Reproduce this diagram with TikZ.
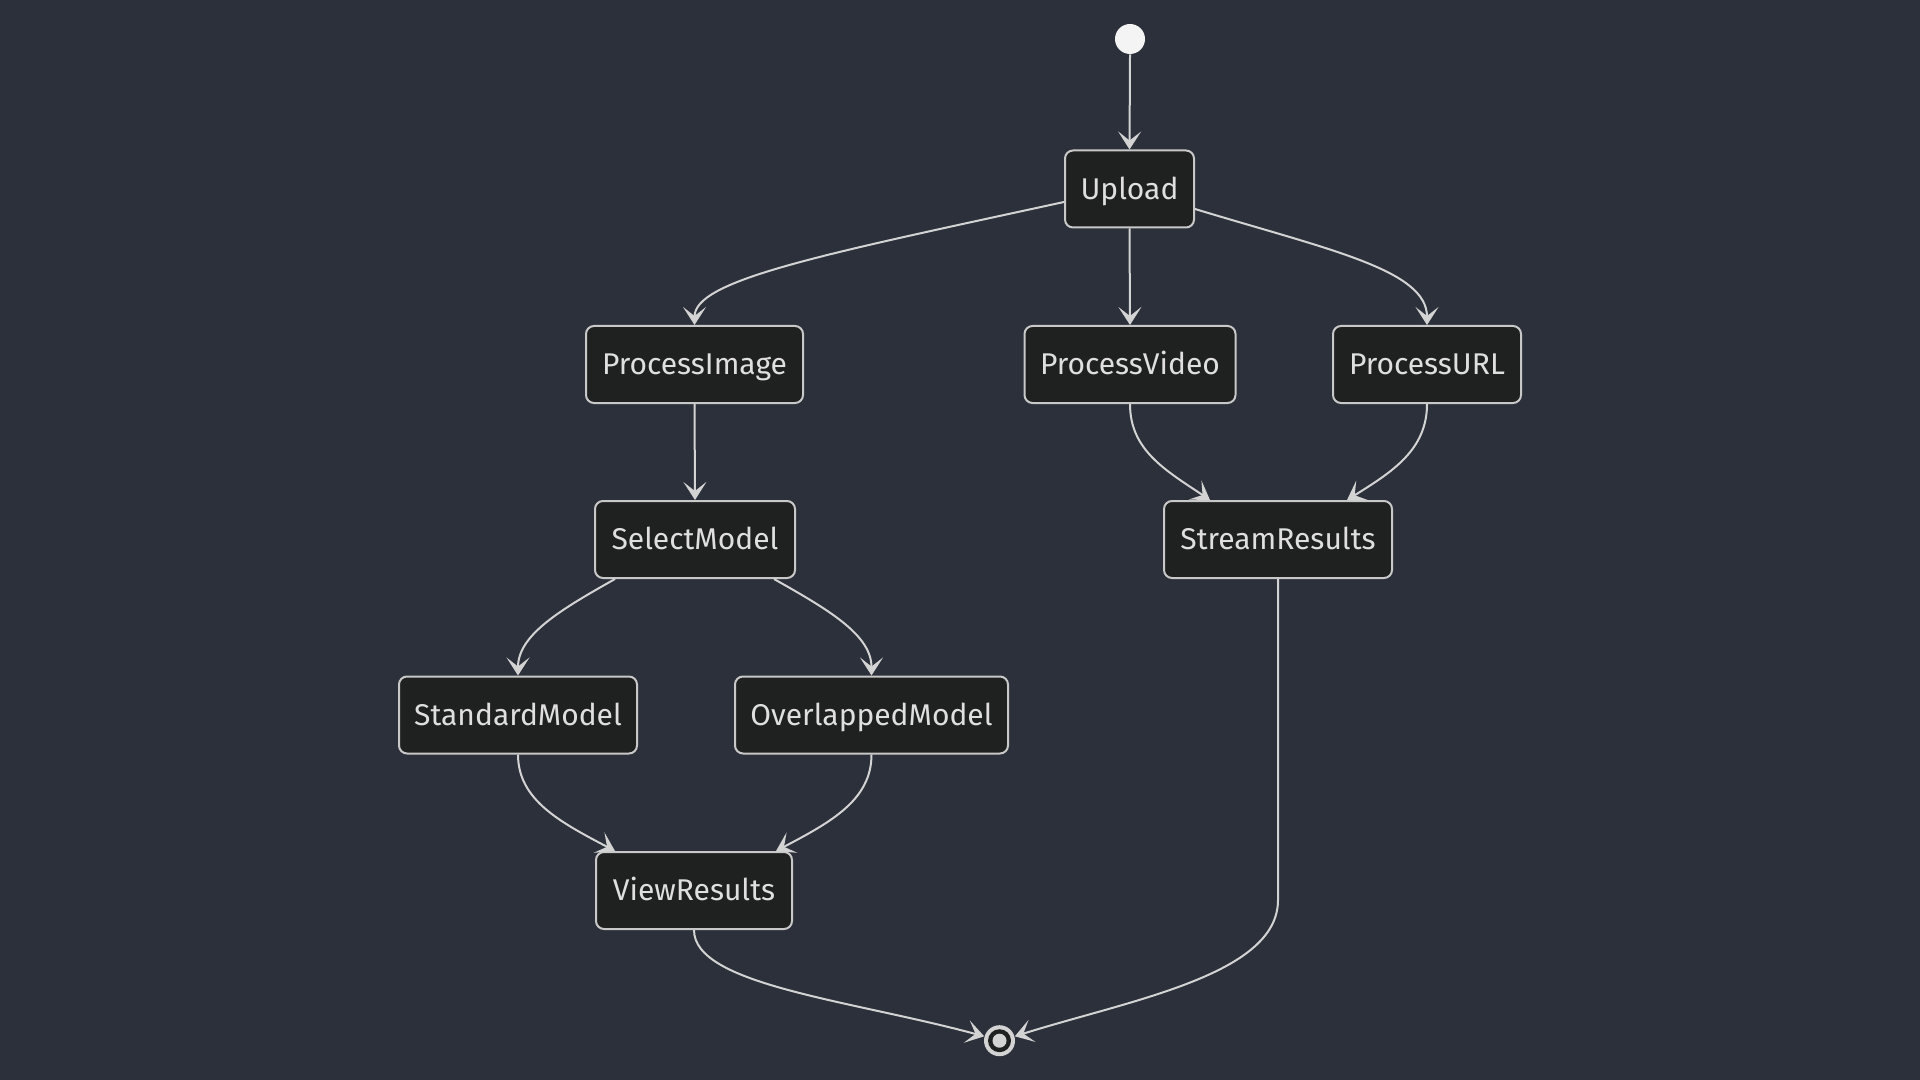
\documentclass[tikz,border=0pt]{standalone}
\usepackage{fontspec}
\setmainfont{Fira Sans}
\usetikzlibrary{arrows.meta}
\definecolor{bgc}{HTML}{2B303B}
\definecolor{nodefill}{HTML}{1F2020}
\definecolor{nodeborder}{HTML}{C8C8C8}
\definecolor{edgec}{HTML}{D3D3D3}
\definecolor{textc}{HTML}{E0DFDF}
\definecolor{startc}{HTML}{F4F4F4}
\tikzset{
  statebox/.style={draw=nodeborder, line width=1pt, fill=nodefill, rounded corners=4pt,
    text=textc, font=\fontsize{15pt}{18pt}\selectfont, inner sep=0pt,
    minimum height=38.5pt, text height=10.4pt, text depth=0pt},
  flow/.style={draw=edgec, line width=1pt,
    -{Stealth[length=9pt, width=11.5pt, inset=4.5pt]}},
}
\begin{document}
\begin{tikzpicture}[x=0.5pt, y=-0.5pt]
\fill[bgc] (0,0) rectangle (1920,1080);
\useasboundingbox (0,0) rectangle (1920,1080);

\node[circle, fill=startc, minimum size=15pt, inner sep=0pt] (st) at (1130,39) {};
\node[statebox, minimum width=64.5pt] (up) at (1129.5,189) {Upload};
\node[statebox, minimum width=108.5pt] (pi) at (694.5,364.5) {ProcessImage};
\node[statebox, minimum width=105.5pt] (pv) at (1130,364.5) {ProcessVideo};
\node[statebox, minimum width=94pt] (purl) at (1427,364.5) {ProcessURL};
\node[statebox, minimum width=100pt] (sm) at (695,539.5) {SelectModel};
\node[statebox, minimum width=114pt] (sr) at (1278,539.5) {StreamResults};
\node[statebox, minimum width=119pt] (std) at (518,715) {StandardModel};
\node[statebox, minimum width=136.5pt] (ov) at (871.5,715) {OverlappedModel};
\node[statebox, minimum width=98pt] (vr) at (694,890.5) {ViewResults};
\node[circle, fill=edgec, minimum size=15.5pt, inner sep=0pt] (endc) at (999.5,1040.7) {};
\fill[nodefill] (endc.center) circle (5.75pt);
\fill[edgec] (endc.center) circle (3.5pt);

\coordinate (srbend) at (1278,900);

\draw[flow] (st.south) -- (up.north);
\draw[flow] ([yshift=-6.5pt]up.west) .. controls (820,255) and (694.5,280) .. (pi.north);
\draw[flow] (up.south) -- (pv.north);
\draw[flow] ([yshift=-10pt]up.east) .. controls (1330,250) and (1427,270) .. (purl.north);
\draw[flow] (pi.south) -- (sm.north);
\draw[flow] (pv.south) .. controls (1130,450) and (1165,470) .. ([xshift=-34pt]sr.north);
\draw[flow] (purl.south) .. controls (1427,450) and (1392,472) .. ([xshift=34.5pt]sr.north);
\draw[flow] ([xshift=-40pt]sm.south) .. controls (560,610) and (518,635) .. (std.north);
\draw[flow] ([xshift=39.5pt]sm.south) .. controls (829,610) and (871.5,635) .. (ov.north);
\draw[flow] (std.south) .. controls (518,800) and (560,822) .. ([xshift=-39.5pt]vr.north);
\draw[flow] (ov.south) .. controls (871.5,800) and (831,822) .. ([xshift=41pt]vr.north);
\draw[flow] (vr.south) .. controls (694,985) and (850,1000) .. (endc.164);
\draw[flow] (sr.south) -- (srbend) .. controls (1278,975) and (1130,1000) .. (endc.16);
\end{tikzpicture}
\end{document}
